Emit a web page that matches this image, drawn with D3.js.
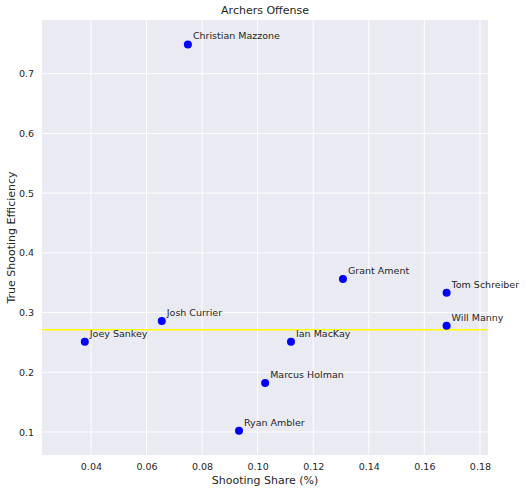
<!DOCTYPE html>
<html><head><meta charset="utf-8">
<script src="https://cdn.jsdelivr.net/npm/d3@7"></script>
<style>body{margin:0;background:#fff}text{font-family:"DejaVu Sans",sans-serif}</style>
</head><body><svg id="c" width="526" height="493"></svg>
<script>
const players = ["Christian Mazzone","Grant Ament","Tom Schreiber","Will Manny","Josh Currier","Joey Sankey","Ian MacKay","Marcus Holman","Ryan Ambler"];
const share = [0.0749,0.1307,0.168,0.168,0.0655,0.0378,0.112,0.1027,0.0933];
const tse = [0.749,0.356,0.333,0.278,0.286,0.251,0.251,0.182,0.102];
const avgLine = 0.271;
const xTicks = [0.04,0.06,0.08,0.10,0.12,0.14,0.16,0.18];
const yTicks = [0.1,0.2,0.3,0.4,0.5,0.6,0.7];

const m = {l:42, r:488, t:20, b:455};
const svg = d3.select("#c");
const x = d3.scaleLinear().domain([0.0224,0.1829]).range([m.l,m.r]);
const y = d3.scaleLinear().domain([0.0614,0.790]).range([m.b,m.t]);

svg.append("rect").attr("x",m.l).attr("y",m.t).attr("width",m.r-m.l).attr("height",m.b-m.t).attr("fill","#EAEAF2");

const g = svg.append("g");
g.selectAll(".gx").data(xTicks).join("line").attr("x1",x).attr("x2",x).attr("y1",m.t).attr("y2",m.b).attr("stroke","#fff").attr("stroke-width",1);
g.selectAll(".gy").data(yTicks).join("line").attr("y1",y).attr("y2",y).attr("x1",m.l).attr("x2",m.r).attr("stroke","#fff").attr("stroke-width",1);

svg.append("g").attr("transform",`translate(0,${m.b})`)
  .call(d3.axisBottom(x).tickValues(xTicks).tickFormat(d3.format(".2f")).tickSize(0).tickPadding(8))
  .call(a=>a.select(".domain").remove())
  .selectAll("text").attr("font-size",9.5).attr("fill","#262626");
svg.append("g").attr("transform",`translate(${m.l},0)`)
  .call(d3.axisLeft(y).tickValues(yTicks).tickFormat(d3.format(".1f")).tickSize(0).tickPadding(8))
  .call(a=>a.select(".domain").remove())
  .selectAll("text").attr("font-size",9.5).attr("fill","#262626");

svg.append("line").attr("x1",m.l).attr("x2",m.r).attr("y1",y(avgLine)).attr("y2",y(avgLine)).attr("stroke","#ffff00").attr("stroke-width",1.5);

const pts = players.map((p,i)=>({p,x:share[i],y:tse[i]}));
svg.selectAll(".dot").data(pts).join("circle").attr("cx",d=>x(d.x)).attr("cy",d=>y(d.y)).attr("r",4).attr("fill","#0000ff");
svg.selectAll(".lab").data(pts).join("text").attr("x",d=>x(d.x)+5).attr("y",d=>y(d.y)-5).attr("font-size",9.5).attr("fill","#262626").text(d=>d.p);

svg.append("text").attr("x",(m.l+m.r)/2).attr("y",14).attr("text-anchor","middle").attr("font-size",11).attr("fill","#262626").text("Archers Offense");
svg.append("text").attr("x",(m.l+m.r)/2).attr("y",484).attr("text-anchor","middle").attr("font-size",11).attr("fill","#262626").text("Shooting Share (%)");
svg.append("text").attr("transform",`translate(15,${(m.t+m.b)/2}) rotate(-90)`).attr("text-anchor","middle").attr("font-size",11).attr("fill","#262626").text("True Shooting Efficiency");
</script></body></html>
